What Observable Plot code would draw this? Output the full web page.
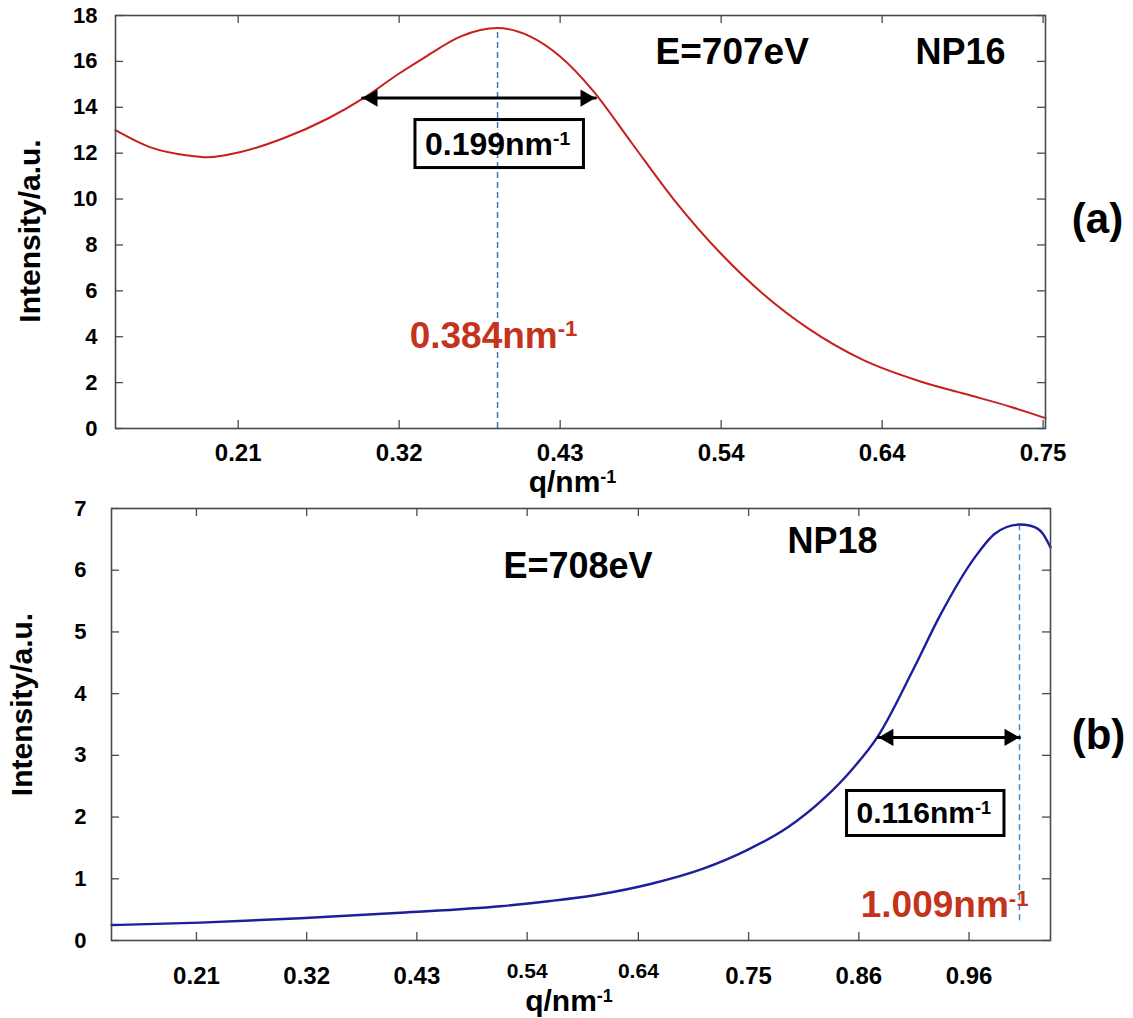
<!DOCTYPE html>
<html>
<head>
<meta charset="utf-8">
<script src="https://cdn.jsdelivr.net/npm/d3@7"></script>
<script src="https://cdn.jsdelivr.net/npm/@observablehq/plot@0.6"></script>
<style>
html, body { margin: 0; padding: 0; background: #fff; }
#chart svg { display: block; }
</style>
</head>
<body>
<div id="chart"></div>
<script>
// ---------- Panel (a): NP16, E=707eV ----------
const aQ = [0.1277, 0.1512, 0.176, 0.1894, 0.2116, 0.2404, 0.2699, 0.2941, 0.3175, 0.3357, 0.3598, 0.384,
            0.4054, 0.4262, 0.4477, 0.4745, 0.502, 0.5349, 0.5624, 0.5926, 0.6288, 0.6677, 0.6979, 0.728, 0.7516];
const aI = [13.0, 12.25, 11.9, 11.82, 12.05, 12.65, 13.5, 14.4, 15.45, 16.2, 17.1, 17.45,
            17.1, 16.2, 14.75, 12.4, 10.0, 7.55, 5.85, 4.35, 3.0, 2.05, 1.5, 0.95, 0.45];
const aXTicks = [0.21, 0.318, 0.426, 0.534, 0.642, 0.75];
const aXTickLabels = ["0.21", "0.32", "0.43", "0.54", "0.64", "0.75"];
const aYTicks = [0, 2, 4, 6, 8, 10, 12, 14, 16, 18];
const aPeakQ = 0.384, aPeakI = 17.45;
const aWidth = 0.199;
const aArrowQ = [0.2934, 0.4497], aArrowI = 14.4;
const aEnergy = "E=707eV", aSample = "NP16", aTag = "(a)";

// ---------- Panel (b): NP18, E=708eV ----------
const bQ = [0.1275, 0.2139, 0.311, 0.408, 0.505, 0.5537, 0.6022, 0.6517, 0.7013, 0.744, 0.7838, 0.8197,
            0.8469, 0.8712, 0.9061, 0.9323, 0.9653, 0.9857, 1.009, 1.0197, 1.0313, 1.0391];
const bI = [0.25, 0.29, 0.36, 0.45, 0.555, 0.64, 0.75, 0.92, 1.16, 1.46, 1.83, 2.31,
            2.78, 3.3, 4.4, 5.28, 6.2, 6.6, 6.74, 6.72, 6.6, 6.37];
const bXTicks = [0.21, 0.317, 0.424, 0.531, 0.639, 0.746, 0.853, 0.96];
const bXTickLabels = ["0.21", "0.32", "0.43", "0.54", "0.64", "0.75", "0.86", "0.96"];
const bYTicks = [0, 1, 2, 3, 4, 5, 6, 7];
const bPeakQ = 1.009, bPeakI = 6.74;
const bWidth = 0.116;
const bArrowQ = [0.872, 1.009], bArrowI = 3.29;
const bEnergy = "E=708eV", bSample = "NP18", bTag = "(b)";

const yTitle = "Intensity/a.u.";
const xTitle = "q/nm⁻¹";
const SUP = "nm⁻¹";

const FONT = "'Liberation Sans', Arial, Helvetica, sans-serif";
const FRAME = "#4a4a4a";

function arrowMarks(qs, yv) {
  const A = {fill: "black", stroke: "none", symbol: "triangle", r: 6.4};
  return [
    Plot.line(qs, {x: d => d, y: () => yv, stroke: "black", strokeWidth: 3}),
    Plot.dot([qs[0]], {x: d => d, y: () => yv, rotate: -90, dx: 10, ...A}),
    Plot.dot([qs[1]], {x: d => d, y: () => yv, rotate: 90, dx: -10, ...A})
  ];
}

function panel(o) {
  const pw = 1133 - o.ml - o.mr, ph = o.height - o.mt - o.mb;
  const data = o.q.map((q, i) => ({q, I: o.I[i]}));
  const tk = {stroke: FRAME, strokeWidth: 1.3};
  const small = o.xSmall || [];
  const big = o.xTicks.filter((d, i) => !small.includes(i));
  const sm = o.xTicks.filter((d, i) => small.includes(i));
  const lab = d => o.xLabels[o.xTicks.indexOf(d)];
  return Plot.plot({
    width: 1133, height: o.height,
    marginTop: o.mt, marginBottom: o.mb, marginLeft: o.ml, marginRight: o.mr,
    style: {fontFamily: FONT, fontWeight: "bold", background: "white", color: "black", overflow: "visible"},
    x: {domain: o.xDomain, axis: null, label: null},
    y: {domain: o.yDomain, label: null},
    marks: [
      Plot.tickX(o.xTicks, {x: d => d, insetTop: ph - 8, ...tk}),
      Plot.tickX(o.xTicks, {x: d => d, insetBottom: ph - 8, ...tk}),
      Plot.tickY(o.yTicks, {y: d => d, insetRight: pw - 8, ...tk}),
      Plot.tickY(o.yTicks, {y: d => d, insetLeft: pw - 8, ...tk}),
      Plot.axisY(o.yTicks, {tickSize: 0, tickPadding: o.yPad, tickFormat: d => `${d}`, fontSize: 22, fontWeight: "bold", label: null}),
      Plot.text(big, {x: d => d, text: lab, frameAnchor: "bottom", lineAnchor: "top", textAnchor: "middle",
                      dy: o.xPad, fontSize: 24, fill: "black"}),
      Plot.text(sm, {x: d => d, text: lab, frameAnchor: "bottom", lineAnchor: "top", textAnchor: "middle",
                     dy: o.xPad - 3, fontSize: 21, fill: "black"}),
      Plot.text([yTitle], {text: d => d, frameAnchor: "left", textAnchor: "middle", lineAnchor: "middle", rotate: -90,
                           dx: o.ytDx, dy: o.ytDy, fontSize: 30, fill: "black"}),
      Plot.text([xTitle], {text: d => d, frameAnchor: "bottom", textAnchor: "middle", lineAnchor: "bottom",
                           dx: o.xtDx, dy: o.xtDy, fontSize: 30, fill: "black"}),
      Plot.text([o.tag], {text: d => d, frameAnchor: "right", textAnchor: "middle", lineAnchor: "middle",
                          dx: o.tagDx, dy: o.tagDy, fontSize: 42, fill: "black"}),
      Plot.ruleX([o.peakQ], {x: d => d, y1: o.dashBottom, y2: o.peakI, stroke: o.dashColor, strokeWidth: 1.5, strokeDasharray: "6,4"}),
      Plot.line(data, {x: "q", y: "I", stroke: o.color, strokeWidth: o.lw, curve: "monotone-x"}),
      ...arrowMarks(o.arrowQ, o.arrowI),
      ...o.extra,
      Plot.frame({stroke: FRAME, strokeWidth: 1.6})
    ]
  });
}

const redFill = "#c4341c";

const svgA = panel({
  height: 500, mt: 15, mb: 72, ml: 115, mr: 88,
  q: aQ, I: aI, xDomain: [0.1277, 0.7516], yDomain: [0, 18],
  xTicks: aXTicks, xLabels: aXTickLabels, yTicks: aYTicks,
  yPad: 18, xPad: 15, ytDx: -85, ytDy: 9, xtDx: -8, xtDy: 63, tag: aTag, tagDx: 52, tagDy: -2.5,
  peakQ: aPeakQ, peakI: aPeakI, dashBottom: 0, dashColor: "#3f78b0",
  color: "#c81e1e", lw: 2, arrowQ: aArrowQ, arrowI: aArrowI,
  extra: [
    Plot.text([aEnergy], {text: d => d, x: () => 0.49, y: () => 15.87, textAnchor: "start", lineAnchor: "bottom", fontSize: 37, fill: "black"}),
    Plot.text([aSample], {text: d => d, x: () => 0.6644, y: () => 15.87, textAnchor: "start", lineAnchor: "bottom", fontSize: 36, fill: "black"}),
    Plot.text([`${aWidth}${SUP}`], {text: d => d, x: () => aPeakQ, y: () => 11.94, textAnchor: "middle", lineAnchor: "bottom", fontSize: 32, fill: "black"}),
    Plot.text([`${aPeakQ}${SUP}`], {text: d => d, x: () => aPeakQ, y: () => 3.53, dx: -4, textAnchor: "middle", lineAnchor: "bottom", fontSize: 37, fill: redFill})
  ]
});

const svgB = panel({
  height: 518, mt: 8, mb: 78, ml: 111, mr: 83,
  q: bQ, I: bI, xDomain: [0.1275, 1.0391], yDomain: [0, 7],
  xTicks: bXTicks, xLabels: bXTickLabels, yTicks: bYTicks, xSmall: [3, 4],
  yPad: 25, xPad: 26, ytDx: -89, ytDy: -20, xtDx: -12, xtDy: 70, tag: bTag, tagDx: 48, tagDy: 11,
  peakQ: bPeakQ, peakI: bPeakI, dashBottom: 0.32, dashColor: "#3d8fd1",
  color: "#1e1e9c", lw: 2.4, arrowQ: bArrowQ, arrowI: bArrowI,
  extra: [
    Plot.text([bEnergy], {text: d => d, x: () => 0.508, y: () => 5.866, textAnchor: "start", lineAnchor: "bottom", fontSize: 36, fill: "black"}),
    Plot.text([bSample], {text: d => d, x: () => 0.7838, y: () => 6.287, textAnchor: "start", lineAnchor: "bottom", fontSize: 36, fill: "black"}),
    Plot.text([`${bWidth}${SUP}`], {text: d => d, x: () => 0.8508, y: () => 1.896, textAnchor: "start", lineAnchor: "bottom", fontSize: 30, fill: "black"}),
    Plot.text([`${bPeakQ}${SUP}`], {text: d => d, x: () => 1.0178, y: () => 0.373, textAnchor: "end", lineAnchor: "bottom", fontSize: 37, fill: redFill})
  ]
});

const root = document.getElementById("chart");
root.appendChild(svgA);
root.appendChild(svgB);

const NS = "http://www.w3.org/2000/svg";
const boxed = new Set([`${aWidth}${SUP}`, `${bWidth}${SUP}`]);
[svgA, svgB].forEach(svg => {
  svg.querySelectorAll("text").forEach(t => {
    const s = t.textContent;
    const k = s.indexOf("⁻¹");
    if (k < 0) return;
    const isBoxed = boxed.has(s);
    t.textContent = s.slice(0, k);
    const ts = document.createElementNS(NS, "tspan");
    ts.setAttribute("dy", "-0.5em");
    ts.setAttribute("font-size", "0.6em");
    ts.textContent = "-1";
    t.appendChild(ts);
    if (isBoxed) {
      const bb = t.getBBox();
      const r = document.createElementNS(NS, "rect");
      const px = 10, py = 9;
      r.setAttribute("x", bb.x - px);
      r.setAttribute("y", bb.y - py + 3);
      r.setAttribute("width", bb.width + 2 * px + 3);
      r.setAttribute("height", bb.height + 2 * py - 6);
      r.setAttribute("fill", "none");
      r.setAttribute("stroke", "black");
      r.setAttribute("stroke-width", 3);
      if (t.getAttribute("transform")) r.setAttribute("transform", t.getAttribute("transform"));
      t.parentNode.insertBefore(r, t);
    }
  });
});
</script>
</body>
</html>
